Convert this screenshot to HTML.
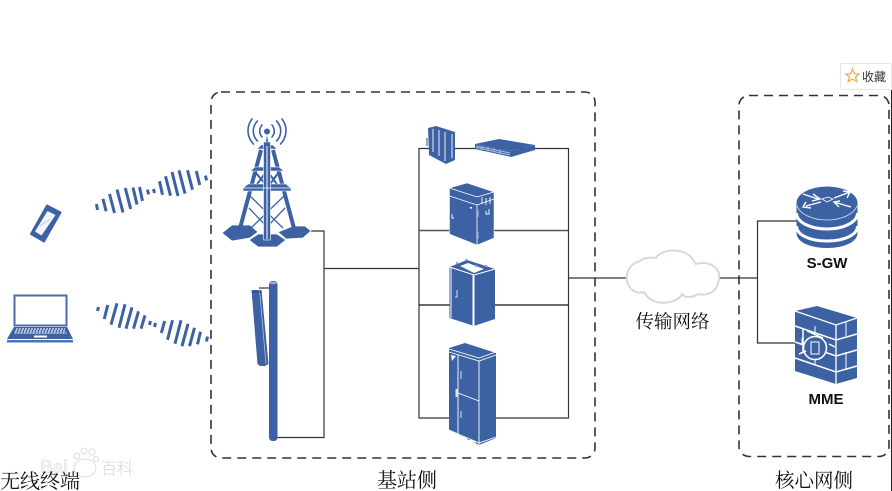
<!DOCTYPE html>
<html><head><meta charset="utf-8"><style>
html,body{margin:0;padding:0;background:#fff}
svg{display:block}
.t{font-family:"Liberation Serif","Noto Serif CJK SC",serif;fill:#111}
.b{font-family:"Liberation Sans",sans-serif;font-weight:700;font-size:15px;fill:#111}
</style></head><body>
<svg width="892" height="491" viewBox="0 0 892 491" xmlns="http://www.w3.org/2000/svg">
<rect width="892" height="491" fill="#fff"/>
<!-- dashed groups -->
<rect x="211" y="92" width="384" height="366" rx="10" fill="none" stroke="#333" stroke-width="1.600" stroke-dasharray="9 6"/>
<rect x="739" y="95.500" width="150" height="361" rx="10" fill="none" stroke="#333" stroke-width="1.600" stroke-dasharray="9 6"/>
<line x1="891.500" y1="90" x2="891.500" y2="491" stroke="#222" stroke-width="1"/>
<!-- connectors -->
<g fill="none" stroke="#333" stroke-width="1.200">
<path d="M305 231H324V437.500H277"/>
<path d="M324 268.500H419"/>
<path d="M259 288H269"/>
<path d="M419 148.500H568.500V418H419Z"/>
<path d="M419 230.500H568.500" stroke="#555" stroke-width="1.500"/>
<path d="M419 305H568.500" stroke="#111"/>
<path d="M568.500 278H626"/>
<path d="M719 278H757"/>
<path d="M797 221H757.500V343H797"/>
</g>
<!-- waves -->
<g stroke="#3d62a4" stroke-width="3" stroke-linecap="butt">
<path d="M96.400 204.100L97.600 209.900M102.900 198.700L106.100 211.300M109.500 194L114.500 213M117 189.500L123 212.500M125.300 188L130.700 209M133 187.500L137 204.500M139.500 187L142.500 201M147.400 189.600L148.600 194.400M153.500 189L154.500 193M159.500 181.200L162.500 194.800M165.500 176.300L170.500 195.700M172 172L178 196M179 170.400L185 193.600M187.500 170.300L192.500 189.700M196.300 171L199.700 185M205.400 175.600L206.600 180.400"/>
<path d="M98.500 307L97.500 311M107.800 305L104.200 319M117 303.300L111 324.700M125 304.300L119 327.700M132 307.300L126 328.700M138.500 311.300L133.500 328.700M145 315.300L141 328.700M150.500 321L149.500 325M155.500 323L154.500 327M164.700 321L161.300 333M172.500 320.300L167.500 339.700M181 320.300L175 343.700M188 323.800L182 346.200M194.500 327.800L189.500 346.200M200.500 331.700L197.500 344.300M207.500 336.600L206.500 341.400"/>
</g>
<!-- phone -->
<g>
<polygon points="47,205.500 60.500,212.500 44,241.500 31,234" fill="#3d62a4" stroke="#3d62a4" stroke-width="2" stroke-linejoin="round"/>
<polygon points="47.500,211 55.500,215 41.500,235.500 35,231.500" fill="#f3f5f9"/>
<line x1="40" y1="226" x2="50" y2="219" stroke="#b5c4de" stroke-width=".8"/>
</g>
<!-- laptop -->
<g>
<rect x="14.500" y="295.500" width="52" height="30" fill="#fff" stroke="#4a6dab" stroke-width="2"/>
<polygon points="14,327 67,327 73,339 7,339" fill="#3d62a4"/>
<rect x="7" y="340" width="66" height="2.500" fill="#4f73b0"/>
<g stroke="#f0f3f8" stroke-width="1.200" stroke-dasharray="2 1">
<line x1="16" y1="329" x2="65" y2="329"/><line x1="15" y1="331" x2="66" y2="331"/><line x1="14.500" y1="333" x2="66.500" y2="333"/>
</g>
<rect x="34" y="335.500" width="13" height="2" fill="#fff"/>
</g>
<!-- tower -->
<g>
<g fill="none" stroke="#3d62a4" stroke-width="1.600" stroke-linecap="round">
<path d="M262 125a9 9 0 0 0 0 12M272 125a9 9 0 0 1 0 12"/>
<path d="M257.500 121a14 14 0 0 0 0 20M276.500 121a14 14 0 0 1 0 20"/>
<path d="M252 119a19 19 0 0 0 1.500 25M282 119a19 19 0 0 1 -1.500 25"/>
</g>
<circle cx="267" cy="131.500" r="3" fill="#3d62a4"/>
<polygon points="267,135 270,152 264,152" fill="#3d62a4"/>
<g fill="#3d62a4" stroke="#fff" stroke-width=".8">
<polygon points="222,233 232,225 250,225 258,232 250,238 232,241"/>
<polygon points="278,232 293,226 305,226 311,231 303,238 286,239"/>
<polygon points="249,240 258,234 277,234 286,240 277,247 258,247"/>
</g>
<g stroke="#3d62a4" fill="none">
<path d="M261 150L239 232M273 150L295 232" stroke-width="4"/>
<path d="M249 195L283 228M285 195L251 228M249 208L268 228M285 208L266 228" stroke-width="1.300"/>
<path d="M255 172L268 187L279 172M255 187L266 172M279 187L268 172" stroke-width="2"/>
</g>
<g fill="#3d62a4" stroke="#fff" stroke-width=".6">
<polygon points="257,149 277,149 273,145 261,145"/>
<polygon points="250,171 284,171 279,167 255,167"/>
<polygon points="243,191 291,191 291,188 286,184 248,184 243,188"/>
<rect x="263.500" y="142" width="7" height="98"/>
</g>
<line x1="243" y1="188" x2="291" y2="188" stroke="#fff" stroke-width=".7"/>
<line x1="267" y1="146" x2="267" y2="239" stroke="#fff" stroke-width="1"/>
</g>
<!-- antenna -->
<g>
<polygon points="251.500,290 261.500,290 268.500,364 265,366 260,366 257.500,364" fill="#3d62a4"/>
<path d="M259.500 290L266 364" stroke="#bccbe3" stroke-width=".7" fill="none"/>
<line x1="252" y1="292" x2="262" y2="292" stroke="#123f90" stroke-width=".8"/>
<rect x="269" y="281" width="8.500" height="160" rx="3.500" fill="#3d62a4"/>
<ellipse cx="273.200" cy="283" rx="3.600" ry="1.300" fill="#9fb2d4"/>
</g>
<!-- device 1 -->
<g>
<polygon points="428,128 436,126 455,132 455,160 446,164 429,155" fill="#3d62a4"/>
<path d="M433 129V152M439 130V156M445 132V161M452 134V158" stroke="#fff" stroke-width=".9"/>
<path d="M427 138V146" stroke="#6f8cc0" stroke-width="1.500"/>
</g>
<!-- switch -->
<g>
<polygon points="475,144 499,139 535,145 511,151" fill="#3d62a4"/>
<polygon points="475,144 511,151 511,157 475,149" fill="#3d62a4"/>
<polygon points="511,151 535,145 535,150 511,157" fill="#3d62a4"/>
<path d="M476 146L510 153M476 147.500L510 155M482 146V150M488 147V151.500M494 148V152.500M500 149.500V154" stroke="#a9bbdb" stroke-width="1"/>
</g>
<!-- cabinet 2 -->
<g>
<polygon points="449.500,188 467,183 494,192 494,238 477,245 449.500,234" fill="#3d62a4" stroke="#fff" stroke-width=".5"/>
<path d="M449.500 196L477 205L494 199M477 205V245M449.500 188L477 197L494 192" stroke="#fff" stroke-width=".8" fill="none"/>
<path d="M482 197V204M486 198V205M490 197V204M486 211V214H489V209M452 214V218H454" stroke="#fff" stroke-width=".9" fill="none"/>
<rect x="470" y="207" width="2" height="1.500" fill="#fff"/>
<rect x="477" y="210" width="1.500" height="7" fill="#9db2d6"/>
<rect x="477" y="232" width="1.500" height="7" fill="#9db2d6"/>
</g>
<!-- cabinet 3 -->
<g>
<polygon points="449.500,267 467,260 495,269 495,319 474,326 449.500,318" fill="#3d62a4"/>
<polygon points="460,266 468,263 484,269 474,273" fill="#fff"/>
<path d="M449.500 267L474 275L495 269M474 275V326M473 275V326M451 268V318" stroke="#fff" stroke-width="1" fill="none"/>
<path d="M457 290V297H455" stroke="#fff" stroke-width=".8" fill="none"/>
<circle cx="457" cy="263" r="1.200" fill="#8ea6d0"/><circle cx="466" cy="260" r="1.200" fill="#8ea6d0"/><circle cx="476" cy="266" r="1.200" fill="#8ea6d0"/><circle cx="486" cy="266" r="1.200" fill="#8ea6d0"/>
</g>
<!-- cabinet 4 -->
<g>
<polygon points="449,348 465,343 496,353 496,438 479,445 449,430" fill="#3d62a4"/>
<path d="M449 349L479 358L496 352M449 352L479 361L496 355M479 361V445M458 355V436M458 393L479 401M449 430L479 443L496 437M449 433L479 446" stroke="#fff" stroke-width=".9" fill="none"/>
<polygon points="451,355 456,356 452,361" fill="#fff"/>
<path d="M461 371V379M461 411V418" stroke="#dfe6f2" stroke-width="1"/>
<rect x="455.500" y="389" width="2.500" height="8" fill="#dfe6f2"/>
<path d="M451 433L458 436M461 437L467 439M470 440L476 442" stroke="#fff" stroke-width="1.800"/>
</g>
<!-- cloud -->
<path d="M636 292C624 288 622 266 640 261C646 256 654 258 656 258C660 250 682 246 692 258C696 264 695 264 696 264C708 260 724 268 718 283C716 293 706 296 698 294C692 298 685 298 682 294C678 304 652 308 644 292C641 293 638 293 636 292Z" fill="#fff" stroke="#cfdbe4" stroke-width="2"/>
<!-- router -->
<g>
<path d="M796.500 203V233C796.500 242 810 248 827 248C844 248 857.500 242 857.500 233V203Z" fill="#3d62a4"/>
<path d="M796.500 213C796.500 222 810 229 827 229C844 229 857.500 222 857.500 213" fill="none" stroke="#fff" stroke-width="3"/>
<path d="M796.500 226C796.500 235 810 241 827 241C844 241 857.500 235 857.500 226" fill="none" stroke="#fff" stroke-width="3"/>
<ellipse cx="827" cy="203" rx="30.500" ry="16.500" fill="#3d62a4"/>
<path d="M797 206C800 214 812 220 827 220C842 220 854 214 857 206" fill="none" stroke="#dfe6f2" stroke-width=".8"/>
<g stroke="#fff" stroke-width="1.400" fill="none">
<path d="M803 194L818 199M813 194L820 199L812 201M806 206L821 202M806 202L803 207L811 208M834 198L850 192M843 191L850 192L847 198M834 202L851 207M840 201L834 202L839 207"/>
<path d="M822 199L828 197L833 199L827 202Z" stroke-width=".8"/>
</g>
</g>
<text class="b" x="827" y="268" text-anchor="middle">S-GW</text>
<!-- MME -->
<g>
<polygon points="795,311 817,306 857,318 857,378 836,384 795,371" fill="#3d62a4"/>
<path d="M795 311L836 325L857 318M836 325V384" stroke="#fff" stroke-width="1.300" fill="none"/>
<path d="M795 326L836 340L857 334M795 342L836 356L857 350M795 358L836 372L857 366" stroke="#fff" stroke-width="1.500" fill="none"/>
<path d="M815 326V333M802 338V345M826 342V350M815 358V365M846 322V336M846 352V370" stroke="#fff" stroke-width="1" fill="none"/>
<circle cx="815" cy="348" r="11.500" fill="#3d62a4" stroke="#fff" stroke-width="1.600"/>
<rect x="811" y="342" width="8" height="12" fill="none" stroke="#fff" stroke-width="1"/>
<path d="M803 329V352M829 344L835 347M799 354L806 351M807 331L823 338" stroke="#fff" stroke-width="1.500" fill="none"/>
</g>
<text class="b" x="826" y="404" text-anchor="middle">MME</text>
<!-- favorite -->
<rect x="840.500" y="63.500" width="51" height="26" rx="2" fill="#fff" stroke="#e6e6e6"/>
<polygon points="852.500,69 854.300,73.800 859,74 855.500,77 856.800,81.500 852.500,79 848.200,81.500 849.500,77 846,74 850.700,73.800" fill="#fff" stroke="#f5ad4d" stroke-width="1.300"/>
<text x="862" y="81" font-size="12" style="font-family:'Liberation Sans','Noto Sans CJK SC',sans-serif" fill="#333">收藏</text>
<!-- watermark -->
<text x="40" y="473" font-size="18" font-weight="700" style="font-family:'Liberation Sans',sans-serif" fill="#f3f3f3" stroke="#dcdcdc" stroke-width=".4">Bai</text>
<g fill="none" stroke="#dcdcdc" stroke-width="1">
<ellipse cx="85" cy="468" rx="11" ry="9"/><circle cx="77" cy="456" r="3"/><circle cx="84" cy="451" r="3"/><circle cx="92" cy="452" r="3"/><circle cx="96" cy="459" r="2.500"/>
</g>
<text x="101" y="474" font-size="16" style="font-family:'Liberation Sans','Noto Sans CJK SC',sans-serif" fill="#e2e2e2">百科</text>
<!-- labels -->
<text class="t" x="0" y="488" font-size="20">无线终端</text>
<text class="t" x="377" y="487" font-size="20">基站侧</text>
<text class="t" x="775" y="487" font-size="19.500">核心网侧</text>
<text class="t" x="635.500" y="328" font-size="18.500">传输网络</text>
</svg>
</body></html>
